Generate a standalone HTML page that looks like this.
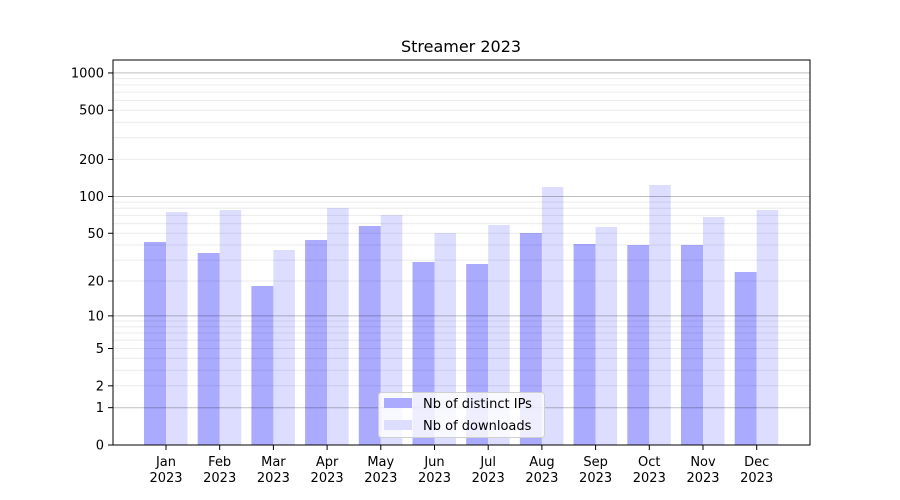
<!DOCTYPE html>
<html><head><meta charset="utf-8"><style>body{margin:0;background:#fff}svg{display:block}text{font-family:"DejaVu Sans","Liberation Sans",sans-serif;fill:#000}</style></head>
<body>
<svg id="s" width="900" height="500" xmlns="http://www.w3.org/2000/svg"></svg>
<script>
const s=document.getElementById('s');
function Y(v){return 445-124*Math.log10(1+v);}
let h='<rect width="900" height="500" fill="#fff"/>';
const ip=[242,253,286,240,226,262,264,233,244,245,245,272];
const dl=[212,210,250,208,215,233,225,187,227,185,217,210];
const m=['Jan','Feb','Mar','Apr','May','Jun','Jul','Aug','Sep','Oct','Nov','Dec'];
for(let i=0;i<12;i++){const c=166+i*53.7;
h+=`<rect x="${c-22}" y="${ip[i]}" width="22" height="${445-ip[i]}" fill="#aaaaff"/>`;
h+=`<rect x="${c}" y="${dl[i]}" width="21.5" height="${445-dl[i]}" fill="#ddddff"/>`;
h+=`<line x1="${c}" x2="${c}" y1="445" y2="450" stroke="#000"/>`;
h+=`<text x="${c}" y="466" font-size="13" text-anchor="middle">${m[i]}</text><text x="${c}" y="482" font-size="13" text-anchor="middle">2023</text>`;}
for(const d of [1,10,100,1000]){for(let k=2;k<=9;k++){const v=k*d;if(Y(v)<60)continue;h+=`<line x1="113" x2="810" y1="${Y(v).toFixed(1)}" y2="${Y(v).toFixed(1)}" stroke="#000" stroke-opacity="0.08" stroke-width="1"/>`;}}
for(const v of [1,10,100,1000]){h+=`<line x1="113" x2="810" y1="${Y(v).toFixed(1)}" y2="${Y(v).toFixed(1)}" stroke="#000" stroke-opacity="0.25" stroke-width="1"/>`;}
const t=[0,1,2,5,10,20,50,100,200,500,1000];
for(const v of t){const y=Y(v);h+=`<line x1="108" x2="113" y1="${y}" y2="${y}" stroke="#000"/><text x="104" y="${y+4.5}" font-size="13" text-anchor="end">${v}</text>`;}
h+=`<rect x="113" y="60" width="697" height="385" fill="none" stroke="#000" stroke-width="1"/>`;
h+=`<text x="461" y="52" font-size="16" text-anchor="middle">Streamer 2023</text>`;
h+=`<rect x="378.5" y="392.5" width="166" height="45" rx="3" fill="#fff" fill-opacity="0.8" stroke="#d0d0d0"/>`;
h+=`<rect x="384" y="398" width="28" height="10" fill="#aaaaff"/><text x="423" y="408" font-size="13">Nb of distinct IPs</text>`;
h+=`<rect x="384" y="420" width="28" height="10" fill="#ddddff"/><text x="423" y="430" font-size="13">Nb of downloads</text>`;
s.innerHTML=h;
</script>
</body></html>
